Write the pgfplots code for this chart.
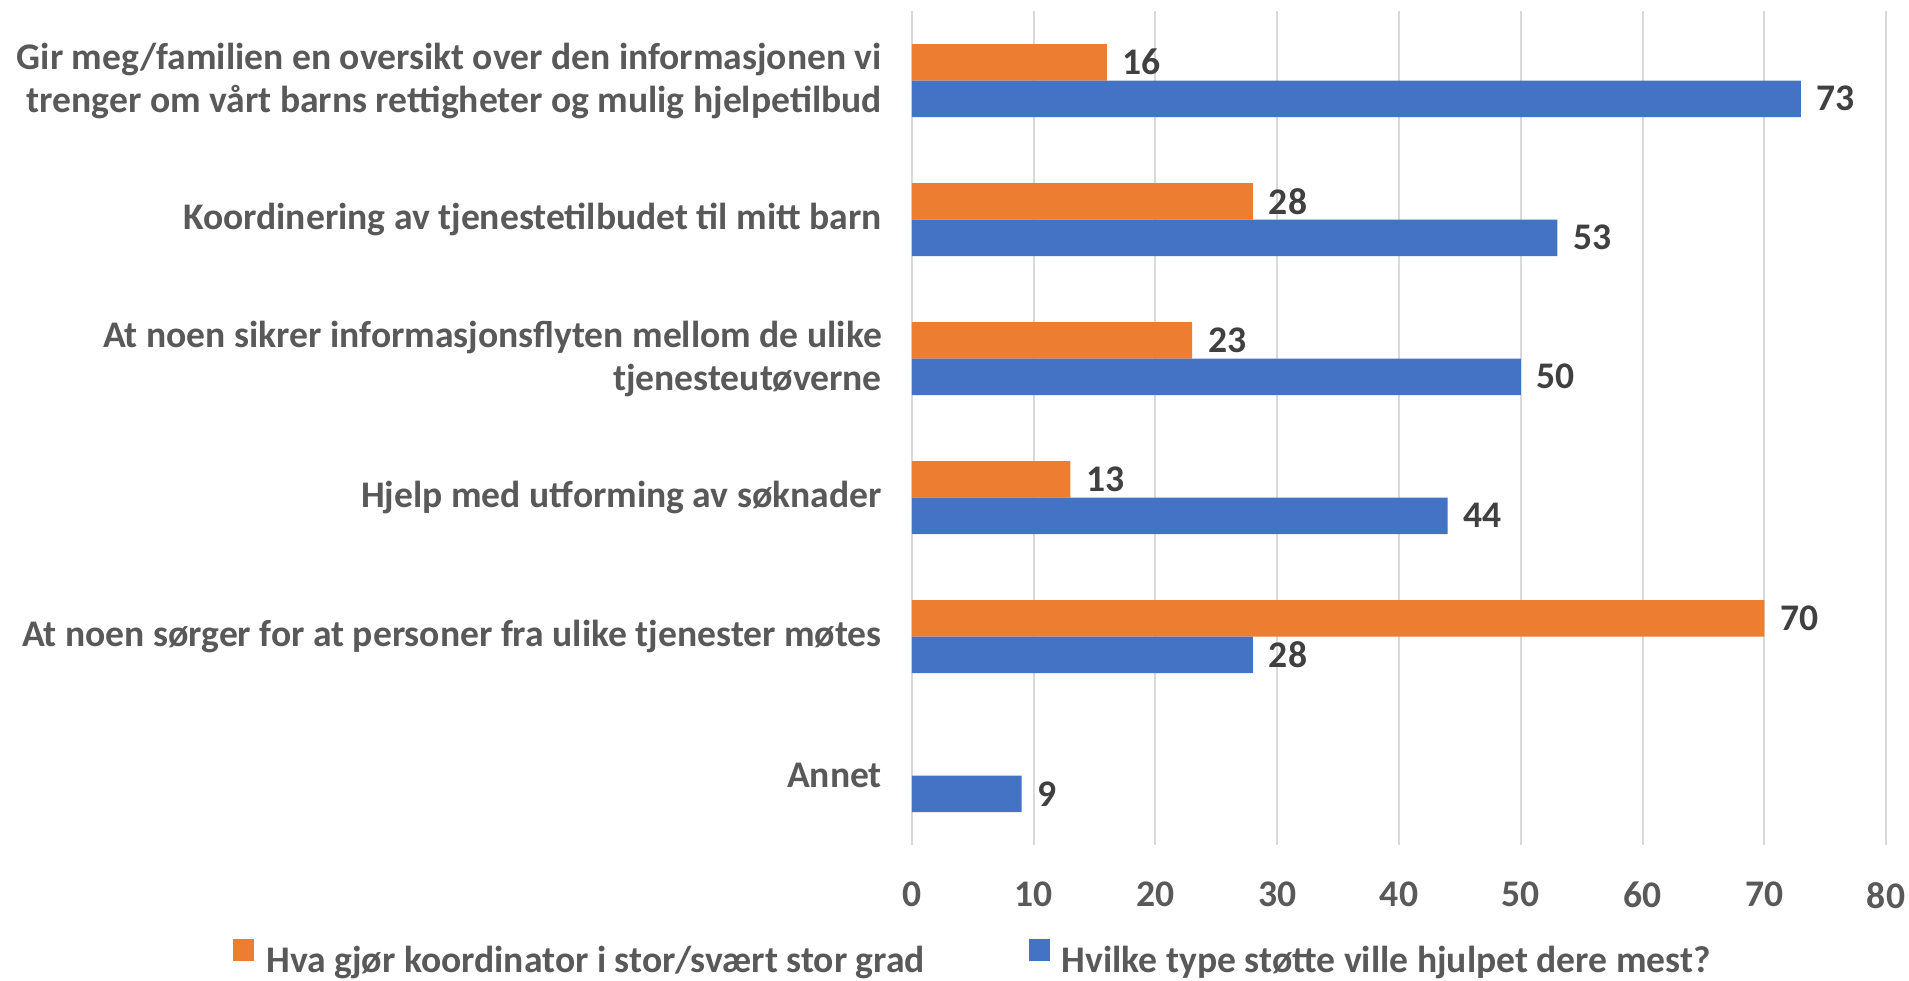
\documentclass[border=0pt]{standalone}
\usepackage{fontspec}
\setmainfont{Carlito}
\usepackage{pgfplots}
\pgfplotsset{compat=1.18}
\definecolor{cOrange}{HTML}{ED7D31}
\definecolor{cBlue}{HTML}{4472C4}
\definecolor{cText}{HTML}{595959}
\definecolor{cLabel}{HTML}{404040}
\definecolor{cGrid}{HTML}{D9D9D9}
\newcommand{\ff}{\fontsize{18.8}{21.5}\selectfont\bfseries}
\begin{document}
\begin{tikzpicture}
\useasboundingbox (-456pt,-67.5pt) rectangle (498.5pt,422.5pt);
\begin{axis}[
  at={(0,0)}, anchor=south west,
  scale only axis, width=487pt, height=417pt,
  xbar=0pt, bar width=18.25pt,
  xmin=0, xmax=80, xtick={0,10,...,80},
  ymin=-0.5, ymax=5.5, y dir=reverse,
  ytick={0,1,2,3,4,5},
  yticklabels={{Gir meg/familien en oversikt over den informasjonen vi\\trenger om vårt barns rettigheter og mulig hjelpetilbud},
    {Koordinering av tjenestetilbudet til mitt barn},
    {At noen sikrer informasjonsflyten mellom de ulike\\tjenesteutøverne},
    {Hjelp med utforming av søknader},
    {At noen sørger for at personer fra ulike tjenester møtes},
    {Annet}},
  yticklabel style={align=right, font=\ff, text=cText, xshift=-11.5pt},
  xticklabel style={font=\ff, text=cText, yshift=-15pt},
  /pgf/number format/assume math mode=true,
  major tick length=0pt,
  axis line style={draw=none},
  xmajorgrids, ymajorgrids=false,
  major grid style={cGrid, line width=1pt},
  clip=false,
  nodes near coords,
  every node near coord/.append style={font=\ff, text=cLabel, anchor=west, xshift=4.5pt},
  legend columns=2,
  legend style={draw=none, fill=none, font=\ff, text=cText,
    at={(0.0637,-0.1367)}, anchor=center,
    /tikz/every odd column/.append style={column sep=4pt},
    /tikz/every even column/.append style={column sep=50pt}},
  legend image code/.code={\path[#1,draw=none] (0pt,0pt) rectangle (10.5pt,11pt);},
]
\addplot[fill=cOrange, draw=none, bar shift=9.125pt] coordinates {(16,0) (28,1) (23,2) (13,3) (70,4)};
\addlegendentry{Hva gjør koordinator i stor/svært stor grad}
\addplot[fill=cBlue, draw=none, bar shift=-9.125pt] coordinates {(73,0) (53,1) (50,2) (44,3) (28,4) (9,5)};
\addlegendentry{Hvilke type støtte ville hjulpet dere mest?}
\end{axis}
\end{tikzpicture}
\end{document}
